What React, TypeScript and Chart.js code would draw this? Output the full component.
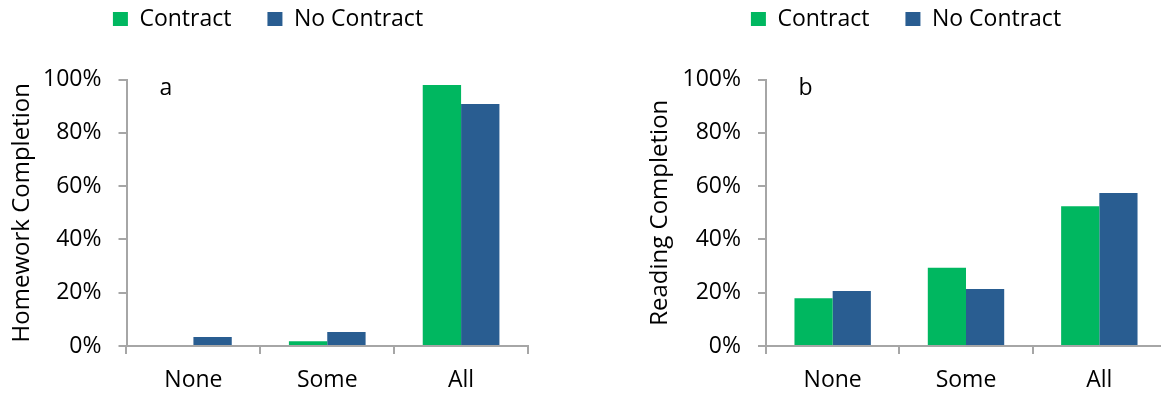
import React, { useEffect, useRef } from "react";
import { Chart, registerables } from "chart.js";

Chart.register(...registerables);

const categories = ["None", "Some", "All"];
const seriesNames = ["Contract", "No Contract"];
const homeworkContract = [0, 1.8, 97.9];
const homeworkNoContract = [3.4, 5.3, 90.8];
const readingContract = [17.9, 29.4, 52.4];
const readingNoContract = [20.6, 21.4, 57.4];
const yTickValues = [0, 20, 40, 60, 80, 100];

const GREEN = "#00B760";
const BLUE = "#295D91";
const AXIS = "#A6A6A6";
const FONT = "'Open Sans'";
const FS = 23;
const TITLE_FS = 24;

type PanelOpts = {
  title: string;
  letter: string;
  contract: number[];
  noContract: number[];
  padLeft: number;
  padRight: number;
  yAxisWidth: number;
};

function makeChart(canvas: HTMLCanvasElement, p: PanelOpts) {
  const legendHeight = 79.5;
  const legendShift = 28.5;
  const layoutPlugin = {
    id: "layoutTweaks",
    beforeLayout(chart: any) {
      const lg = chart.legend;
      if (lg && !lg._wrappedFit) {
        const orig = lg.fit;
        lg.fit = function () {
          orig.call(this);
          this.height = legendHeight;
        };
        lg._wrappedFit = true;
      }
    },
    afterLayout(chart: any) {
      const lg = chart.legend;
      if (lg) {
        lg.top -= legendShift;
        lg.bottom -= legendShift;
      }
    },
  };
  const letterPlugin = {
    id: "panelLetter",
    afterDraw(chart: any) {
      const ctx = chart.ctx;
      const a = chart.chartArea;
      ctx.save();
      ctx.fillStyle = "#000";
      ctx.font = `${FS}px ${FONT}`;
      ctx.textAlign = "center";
      ctx.textBaseline = "alphabetic";
      ctx.fillText(p.letter, a.left + 39.5, 95);
      ctx.restore();
    },
  };

  return new Chart(canvas, {
    type: "bar",
    data: {
      labels: categories,
      datasets: [
        {
          label: seriesNames[0],
          data: p.contract,
          backgroundColor: GREEN,
          borderWidth: 0,
          categoryPercentage: 0.573,
          barPercentage: 1,
        },
        {
          label: seriesNames[1],
          data: p.noContract,
          backgroundColor: BLUE,
          borderWidth: 0,
          categoryPercentage: 0.573,
          barPercentage: 1,
        },
      ],
    },
    options: {
      responsive: false,
      animation: false,
      devicePixelRatio: 1,
      layout: { padding: { left: p.padLeft, right: p.padRight, top: 0, bottom: 0 } },
      plugins: {
        tooltip: { enabled: false },
        legend: {
          display: true,
          position: "top",
          align: "center",
          labels: {
            boxWidth: 15,
            boxHeight: 14,
            padding: 36,
            color: "#000",
            font: { family: FONT, size: FS },
          },
        },
      },
      scales: {
        x: {
          type: "category",
          offset: true,
          afterFit(scale: any) {
            scale.height = 47;
          },
          grid: {
            display: true,
            offset: true,
            drawOnChartArea: false,
            drawTicks: true,
            tickLength: 8,
            color: AXIS,
            lineWidth: 2,
          },
          border: { display: true, color: AXIS, width: 2 },
          ticks: {
            color: "#000",
            padding: 13,
            font: { family: FONT, size: FS },
            maxRotation: 0,
          },
        },
        y: {
          min: 0,
          max: 100,
          afterFit(scale: any) {
            scale.width = p.yAxisWidth;
          },
          afterBuildTicks(scale: any) {
            scale.ticks = yTickValues.map((v) => ({ value: v }));
          },
          grid: {
            display: true,
            drawOnChartArea: false,
            drawTicks: true,
            tickLength: 8,
            color: AXIS,
            lineWidth: 2,
          },
          border: { display: true, color: AXIS, width: 2 },
          ticks: {
            color: "#000",
            padding: 17,
            font: { family: FONT, size: FS },
            callback: (v: any) => `${v}%`,
          },
          title: {
            display: true,
            text: p.title,
            color: "#000",
            font: { family: FONT, size: TITLE_FS },
            padding: { top: 0, bottom: 0 },
          },
        },
      },
    },
    plugins: [layoutPlugin, letterPlugin],
  } as any);
}

function Panel(props: PanelOpts & { left: number; width: number; height: number }) {
  const ref = useRef<HTMLCanvasElement>(null);
  useEffect(() => {
    if (!ref.current) return;
    const chart = makeChart(ref.current, props);
    return () => chart.destroy();
  }, []);
  return (
    <canvas
      ref={ref}
      width={props.width}
      height={props.height}
      style={{
        position: "absolute",
        left: props.left,
        top: 0,
        width: props.width,
        height: props.height,
      }}
    />
  );
}

export default function App() {
  return (
    <div
      style={{
        position: "fixed",
        left: 0,
        top: 0,
        width: 1161,
        height: 393,
        overflow: "hidden",
        background: "#fff",
      }}
    >
      <Panel
        left={0}
        width={560}
        height={393}
        title="Homework Completion"
        letter="a"
        contract={homeworkContract}
        noContract={homeworkNoContract}
        padLeft={8}
        padRight={32}
        yAxisWidth={118.5}
      />
      <Panel
        left={620}
        width={560}
        height={393}
        title="Reading Completion"
        letter="b"
        contract={readingContract}
        noContract={readingNoContract}
        padLeft={26}
        padRight={14}
        yAxisWidth={120}
      />
    </div>
  );
}
